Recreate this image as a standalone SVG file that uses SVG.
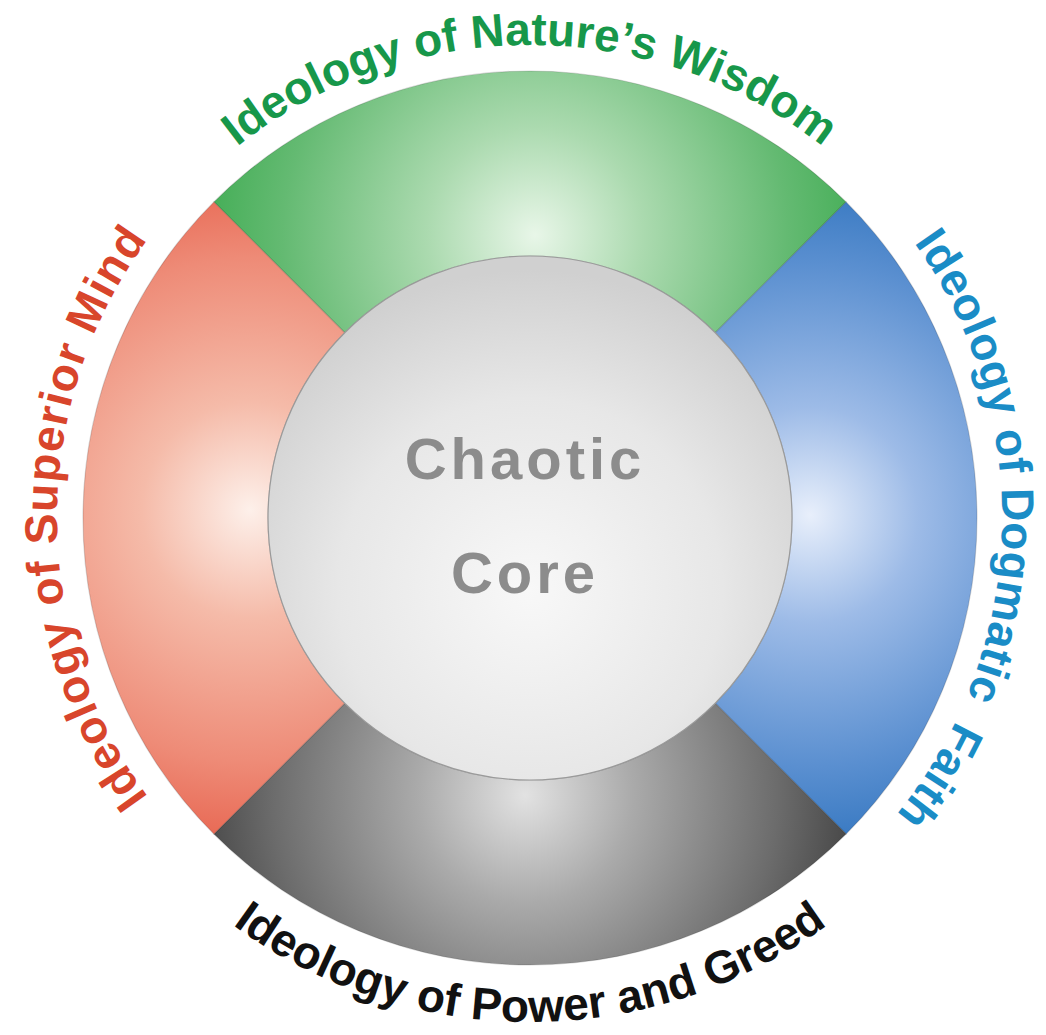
<svg xmlns="http://www.w3.org/2000/svg" width="1046" height="1035" viewBox="0 0 1046 1035">
  <style>
    .seg { stroke: #000; stroke-opacity: 0.15; stroke-width: 1.2; }
    .lbl { font-family: "Liberation Sans", Arial, sans-serif; font-weight: bold; font-size: 46px; }
    .core-t { font-family: "Liberation Sans", Arial, sans-serif; font-weight: bold; font-size: 58px; letter-spacing: 4px; fill: #8c8c8c; text-anchor: middle; }
  </style>
  <defs>
    <radialGradient id="gGreen" gradientUnits="userSpaceOnUse" cx="535" cy="235" r="360">
      <stop offset="0" stop-color="#e8f6e8"/>
      <stop offset="0.3" stop-color="#abdaaf"/>
      <stop offset="0.7" stop-color="#64ba72"/>
      <stop offset="1" stop-color="#38a94c"/>
    </radialGradient>
    <radialGradient id="gBlue" gradientUnits="userSpaceOnUse" cx="810" cy="515" r="360">
      <stop offset="0" stop-color="#e8effb"/>
      <stop offset="0.3" stop-color="#9dbbe7"/>
      <stop offset="0.7" stop-color="#5a8fd0"/>
      <stop offset="1" stop-color="#2a70bc"/>
    </radialGradient>
    <radialGradient id="gRed" gradientUnits="userSpaceOnUse" cx="250" cy="510" r="360">
      <stop offset="0" stop-color="#fdf0ea"/>
      <stop offset="0.3" stop-color="#f5bba9"/>
      <stop offset="0.7" stop-color="#ee8b77"/>
      <stop offset="1" stop-color="#e65c47"/>
    </radialGradient>
    <radialGradient id="gDark" gradientUnits="userSpaceOnUse" cx="525" cy="795" r="360">
      <stop offset="0" stop-color="#e2e2e2"/>
      <stop offset="0.3" stop-color="#aaaaaa"/>
      <stop offset="0.7" stop-color="#6c6c6c"/>
      <stop offset="1" stop-color="#383838"/>
    </radialGradient>
    <radialGradient id="gCore" gradientUnits="userSpaceOnUse" cx="530" cy="590" r="320">
      <stop offset="0" stop-color="#f8f8f8"/>
      <stop offset="0.6" stop-color="#e7e7e7"/>
      <stop offset="1" stop-color="#d0d0d0"/>
    </radialGradient>
    <path id="arcTop" d="M 57,518 A 473 473 0 0 1 1003,518"/>
    <path id="arcLeft" d="M 530,991 A 473 473 0 0 1 530,45"/>
    <path id="arcRight" d="M 530,45 A 471 471 0 0 1 530,989"/>
    <path id="arcBottom" d="M 26,518 A 504 504 0 0 0 1034,518"/>
  </defs>

  <g id="segment-nature">
    <path class="seg" fill="url(#gGreen)" d="M 213.92,201.92 A 447 447 0 0 1 846.08,201.92 L 715.26,332.74 A 262 262 0 0 0 344.74,332.74 Z"/>
    <text class="lbl" fill="#17974a"><textPath href="#arcTop" startOffset="50%" text-anchor="middle">Ideology of Nature’s Wisdom</textPath></text>
  </g>

  <g id="segment-dogmatic">
    <path class="seg" fill="url(#gBlue)" d="M 846.08,201.92 A 447 447 0 0 1 846.08,834.08 L 715.26,703.26 A 262 262 0 0 0 715.26,332.74 Z"/>
    <text class="lbl" fill="#1a8cc6" letter-spacing="0.5"><textPath href="#arcRight" startOffset="51%" text-anchor="middle">Ideology of Dogmatic <tspan dx="12">Faith</tspan></textPath></text>
  </g>

  <g id="segment-power">
    <path class="seg" fill="url(#gDark)" d="M 846.08,834.08 A 447 447 0 0 1 213.92,834.08 L 344.74,703.26 A 262 262 0 0 0 715.26,703.26 Z"/>
    <text class="lbl" fill="#111111"><textPath href="#arcBottom" startOffset="50%" text-anchor="middle">Ideology of Power and Greed</textPath></text>
  </g>

  <g id="segment-superior">
    <path class="seg" fill="url(#gRed)" d="M 213.92,834.08 A 447 447 0 0 1 213.92,201.92 L 344.74,332.74 A 262 262 0 0 0 344.74,703.26 Z"/>
    <text class="lbl" fill="#d8452b" letter-spacing="1.2"><textPath href="#arcLeft" startOffset="50%" text-anchor="middle">Ideology of Superior Mind</textPath></text>
  </g>

  <g id="chaotic-core">
    <circle cx="530" cy="518" r="262" fill="url(#gCore)" stroke="#9a9a9a" stroke-width="1.2"/>
    <text class="core-t" x="525" y="479">Chaotic</text>
    <text class="core-t" x="525" y="593">Core</text>
  </g>

  <g id="connectors"/>
</svg>
